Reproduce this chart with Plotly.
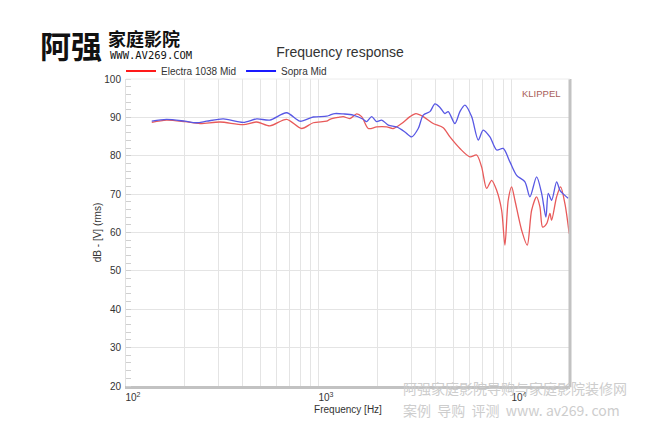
import plotly.graph_objects as go

# ---- data ----
freq_sopra = [136, 162, 202, 232, 262, 319, 405, 476, 557, 680, 797, 934, 1096, 1140, 1210, 1336,
              1505, 1696, 1767, 1876, 1991, 2113, 2287, 2527, 2790, 3022, 3270, 3471, 3759, 3990,
              4237, 4496, 4676, 5066, 5377, 5708, 6183, 6691, 7100, 7691, 8332, 9014, 9763, 10577,
              11679, 12397, 13428, 14255, 15006, 15423, 16060, 17049, 17733, 18314, 19576]
db_sopra = [89.0, 89.5, 89.0, 88.6, 89.0, 89.6, 88.7, 89.6, 89.3, 91.2, 89.0, 90.1, 90.3, 90.6, 91.0, 90.9,
            90.6, 89.5, 88.9, 90.2, 88.9, 89.3, 88.0, 87.5, 86.2, 84.9, 87.1, 90.6, 91.5, 93.5,
            92.6, 91.0, 91.5, 88.4, 91.5, 93.2, 90.2, 84.1, 86.7, 84.9, 81.5, 81.9, 78.4, 74.9,
            73.2, 69.3, 74.5, 70.2, 64.0, 70.2, 68.4, 73.2, 71.0, 70.2, 68.9]

freq_electra = [136, 162, 202, 242, 307, 405, 476, 557, 680, 813, 934, 1096, 1140, 1259, 1336, 1447,
                1568, 1664, 1801, 1991, 2243, 2427, 2682, 2962, 3181, 3471, 3910, 4406, 4773, 5377,
                6059, 6564, 6966, 7395, 7849, 8332, 8845, 9198, 9568, 9963, 10363, 11228, 12003,
                12651, 13428, 13969, 14427, 15131, 15738, 16060, 17049, 17880, 18822, 19812]
db_electra = [88.7, 89.3, 88.9, 88.4, 88.8, 88.1, 88.8, 87.8, 89.5, 87.1, 88.6, 89.0, 89.5, 90.0, 90.2, 89.7,
              90.9, 90.2, 87.1, 87.5, 87.5, 87.1, 88.4, 90.2, 91.0, 90.2, 88.4, 87.3, 84.9, 81.9,
              79.7, 80.2, 77.1, 71.5, 73.6, 71.0, 65.8, 56.7, 68.4, 71.9, 68.4, 60.6, 56.7,
              65.8, 69.3, 66.7, 61.4, 62.3, 65.0, 63.2, 69.3, 71.9, 67.5, 59.7]

series_names = ["Electra 1038 Mid", "Sopra Mid"]
y_ticks = [20, 30, 40, 50, 60, 70, 80, 90, 100]
x_major = [100, 1000, 10000]
x_major_text = ["10<sup>2</sup>", "10<sup>3</sup>", "10<sup>4</sup>"]
x_minor = [200, 300, 400, 500, 600, 700, 800, 900, 2000, 3000, 4000, 5000, 6000, 7000, 8000, 9000, 20000]

FONT = "Arial, Liberation Sans, sans-serif"
CJK = "Noto Sans CJK SC"

# plot area in pixels
L, R, T, B = 126, 570, 79, 386


def px(x):
    return (x - L) / (R - L)


def py(y):
    return (B - y) / (B - T)


fig = go.Figure()
fig.add_trace(go.Scatter(x=freq_electra, y=db_electra, mode="lines", showlegend=False,
                         line=dict(color="#e85a5a", width=1.3, shape="spline", smoothing=0.8)))
fig.add_trace(go.Scatter(x=freq_sopra, y=db_sopra, mode="lines", showlegend=False,
                         line=dict(color="#5858e4", width=1.3, shape="spline", smoothing=0.8)))
# legend entries (saturated colours as in the reference legend)
fig.add_trace(go.Scatter(x=[None], y=[None], mode="lines", name=series_names[0],
                         line=dict(color="#ff1a1a", width=2)))
fig.add_trace(go.Scatter(x=[None], y=[None], mode="lines", name=series_names[1],
                         line=dict(color="#1a1aff", width=2)))

grid = "#e4e4e4"
fig.update_layout(
    width=650, height=430,
    margin=dict(l=L, r=650 - R, t=T, b=430 - B, autoexpand=False),
    paper_bgcolor="white", plot_bgcolor="white",
    font=dict(family=FONT, size=10, color="#333333"),
    title=dict(text="Frequency response", x=340 / 650, xanchor="center",
               y=1 - 52.5 / 430, yanchor="middle", yref="container",
               font=dict(family=FONT, size=14, color="#333333")),
    legend=dict(orientation="h", xref="container", yref="container",
                x=121 / 650, xanchor="left", y=1 - 71 / 430, yanchor="middle",
                font=dict(family=FONT, size=10, color="#333333"),
                bgcolor="rgba(0,0,0,0)", itemwidth=30, tracegroupgap=0),
    xaxis=dict(type="log", range=[2, 4.301], tickvals=x_major, ticktext=x_major_text,
               showgrid=True, gridcolor=grid, gridwidth=1, ticks="",
               showline=True, linecolor="#c2c2c2", linewidth=3, zeroline=False,
               ticklabelshift=7, tickfont=dict(size=10, color="#333333"),
               minor=dict(tickvals=x_minor, showgrid=True, gridcolor=grid, gridwidth=1, ticks=""),
               title=dict(text="Frequency [Hz]", standoff=4, font=dict(size=10, color="#333333"))),
    yaxis=dict(range=[20, 100], tickvals=y_ticks, showgrid=True, gridcolor=grid, gridwidth=1,
               ticks="", zeroline=False, showline=True, linecolor="#e0e0e0", linewidth=1,
               tickfont=dict(size=10, color="#333333"), ticklabelstandoff=2,
               minor=dict(dtick=2, ticks="inside", ticklen=5, tickcolor="#cfcfcf", showgrid=False),
               title=dict(text="dB - [V] (rms)", standoff=0, font=dict(size=10, color="#333333"))),
    shapes=[
        dict(type="line", xref="paper", yref="paper", x0=1, x1=1, y0=-0.004, y1=1,
             line=dict(color="#c2c2c2", width=3)),
        dict(type="line", xref="paper", yref="paper", x0=0, x1=1, y0=1, y1=1,
             line=dict(color="#ececec", width=1)),
    ],
)

annotations = [
    dict(text="KLIPPEL", x=px(541), y=py(93), xanchor="center", yanchor="middle",
         font=dict(family=FONT, size=9.5, color="#a8605a")),
    # top-left watermark
    dict(text="<b>阿强</b>", x=px(38), y=py(45), xanchor="left", yanchor="middle",
         font=dict(family=CJK, size=31, color="#111111")),
    dict(text="<b>家庭影院</b>", x=px(106), y=py(38), xanchor="left", yanchor="middle",
         font=dict(family=CJK, size=18, color="#111111")),
    dict(text="WWW.AV269.COM", x=px(108), y=py(55), xanchor="left", yanchor="middle",
         font=dict(family="DejaVu Sans Mono", size=10.5, color="#111111")),
    # bottom-right watermark
    dict(text="阿强家庭影院导购与家庭影院装修网", x=px(401), y=py(388), xanchor="left", yanchor="middle",
         font=dict(family=CJK, size=14, color="#cdcdcd")),
    dict(text="案例  导购  评测  www. av269. com", x=px(401), y=py(410), xanchor="left", yanchor="middle",
         font=dict(family=CJK, size=14, color="#cdcdcd")),
]
for a in annotations:
    a.update(xref="paper", yref="paper", showarrow=False)
fig.update_layout(annotations=annotations)

fig.write_html("out.html", config={"displayModeBar": False},
               post_script="document.body.style.margin='0px';")
